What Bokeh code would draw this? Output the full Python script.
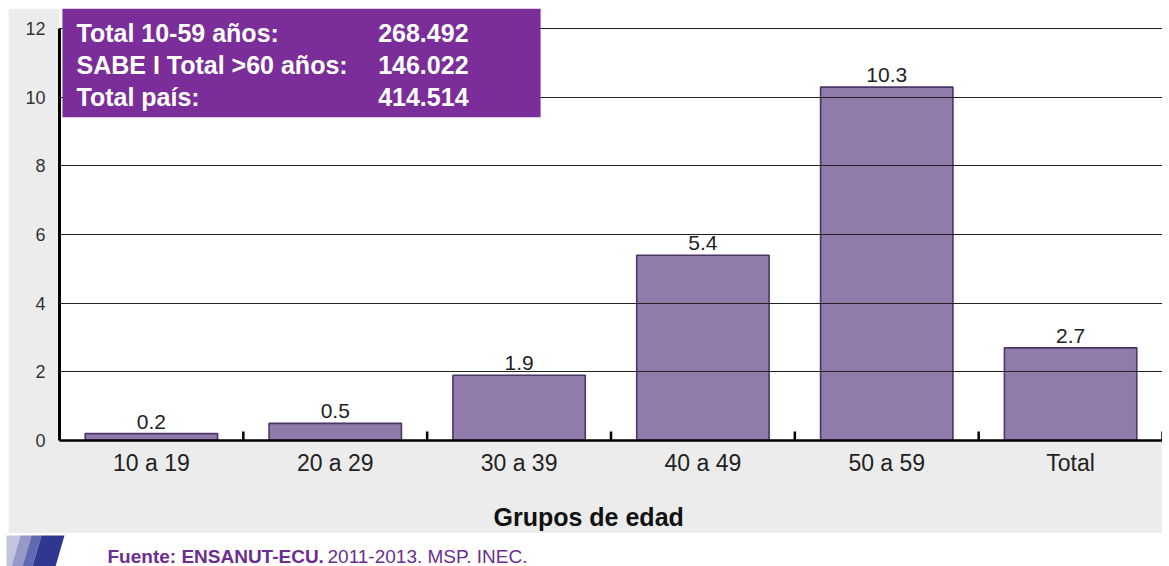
from bokeh.plotting import figure
from bokeh.models import (ColumnDataSource, FactorRange, Range1d, FixedTicker,
                          BoxAnnotation, Label, Title)
from bokeh.transform import dodge
from bokeh.layouts import column
from bokeh.core.properties import value as V
from bokeh.embed import file_html
from bokeh.resources import INLINE

# ---- data ----
categories = ["10 a 19", "20 a 29", "30 a 39", "40 a 49", "50 a 59", "Total"]
values = [0.2, 0.5, 1.9, 5.4, 10.3, 2.7]
y_ticks = [0, 2, 4, 6, 8, 10, 12]
info_labels = ["Total 10-59 años:", "SABE I Total >60 años:", "Total país:"]
info_values = ["268.492", "146.022", "414.514"]
x_title = "Grupos de edad"
source_bold = "Fuente: ENSANUT-ECU."
source_rest = "2011-2013. MSP. INEC."

FONT = "Liberation Sans"
GRAY = "#ececec"
BAR_FILL = "#917bab"
BAR_LINE = "#4b3569"
BOX = "#7b2e99"

src = ColumnDataSource(dict(cat=categories, val=values,
                            lab=[f"{v:.1f}" for v in values]))

p = figure(x_range=FactorRange(*categories, range_padding=0),
           y_range=Range1d(0, 12.59),
           width=1154, height=525, output_backend="svg", toolbar_location=None,
           min_border_left=51, min_border_right=0, min_border_top=0,
           min_border_bottom=93)
p.margin = (8, 7, 0, 8)
p.border_fill_color = GRAY
p.background_fill_color = "white"
p.outline_line_color = None

# bars
p.vbar(x="cat", top="val", width=0.72, source=src, fill_color=BAR_FILL,
       line_color=BAR_LINE, line_width=1.6)

# value labels
p.text(x="cat", y="val", text="lab", source=src, y_offset=-5,
       text_align="center", text_baseline="bottom", text_font=V(FONT),
       text_font_size="21px", text_color="#222222")

# boundary ticks on x axis
tick_h = 9 / 34.3
p.segment(x0=dodge("cat", 0.5, range=p.x_range), x1=dodge("cat", 0.5, range=p.x_range),
          y0=0, y1=tick_h, source=src, line_color="black", line_width=2.5)

# grid
p.xgrid.grid_line_color = None
p.ygrid.ticker = FixedTicker(ticks=y_ticks[1:])
p.ygrid.grid_line_color = "#222222"
p.ygrid.grid_line_width = 1
p.ygrid.level = "annotation"

# y axis
p.yaxis.ticker = FixedTicker(ticks=y_ticks)
p.yaxis.bounds = (0, 12)
p.yaxis.axis_line_color = "black"
p.yaxis.axis_line_width = 3
p.yaxis.major_tick_in = 0
p.yaxis.major_tick_out = 0
p.yaxis.minor_tick_line_color = None
p.yaxis.major_label_standoff = 14
p.yaxis.major_label_text_font = FONT
p.yaxis.major_label_text_font_size = "18px"
p.yaxis.major_label_text_color = "#333333"

# x axis
p.xaxis.axis_line_color = "black"
p.xaxis.axis_line_width = 2.5
p.xaxis.major_tick_in = 0
p.xaxis.major_tick_out = 0
p.xaxis.major_label_standoff = 9
p.xaxis.major_label_text_font = FONT
p.xaxis.major_label_text_font_size = "23px"
p.xaxis.major_label_text_color = "#222222"
title = Title(text=x_title, align="left", offset=434, standoff=22,
              text_font=FONT, text_font_style="bold", text_font_size="25px",
              text_color="#111111")
try:
    title.padding = (0, 0, 22, 0)
    title.standoff = 0
except Exception:
    pass
p.add_layout(title, "below")

# info box
p.add_layout(BoxAnnotation(left=0.016, right=2.617, bottom=9.42, top=12.59,
                           fill_color=BOX, fill_alpha=1, line_color=None,
                           level="overlay"))
line_y = [11.87, 10.93, 10.0]
for lab, val, yy in zip(info_labels, info_values, line_y):
    p.add_layout(Label(x=0.0925, y=yy, text=lab, text_color="white",
                       text_font=FONT, text_font_style="bold",
                       text_font_size="25px", text_baseline="middle",
                       text_align="left", level="overlay"))
    p.add_layout(Label(x=2.225, y=yy, text=val, text_color="white",
                       text_font=FONT, text_font_style="bold",
                       text_font_size="25px", text_baseline="middle",
                       text_align="right", level="overlay"))

# footer
f = figure(width=1169, height=33, x_range=Range1d(0, 1169), y_range=Range1d(0, 33),
           output_backend="svg", toolbar_location=None, x_axis_type=None,
           y_axis_type=None, min_border=0)
try:
    f.frame_align = False
    p.frame_align = False
except Exception:
    pass
f.outline_line_color = None
f.xgrid.grid_line_color = None
f.ygrid.grid_line_color = None
f.background_fill_color = "white"
f.border_fill_color = "white"
stripe_x = [6, 20, 31, 41, 64]
stripe_cols = ["#c3c5dd", "#9699c8", "#6169b2", "#2f3791"]
xs, ys = [], []
for i in range(4):
    a, b = stripe_x[i], stripe_x[i + 1]
    xs.append([a, b, b - 9, max(a - 9, 6)] if i > 0 else [6, b, b - 9, 6])
    ys.append([31, 31, 0, 0])
f.patches(xs=xs, ys=ys, fill_color=stripe_cols, line_color=None)
f.text(x=[107], y=[10], text=[source_bold], text_font=V(FONT), text_font_style="bold",
       text_font_size="19px", text_color="#6b2e90", text_baseline="middle")
f.text(x=[327], y=[10], text=[source_rest], text_font=V(FONT),
       text_font_size="19px", text_color="#6b2e90", text_baseline="middle")

layout = column(p, f, spacing=0)
open("out.html", "w").write(file_html(layout, INLINE))
